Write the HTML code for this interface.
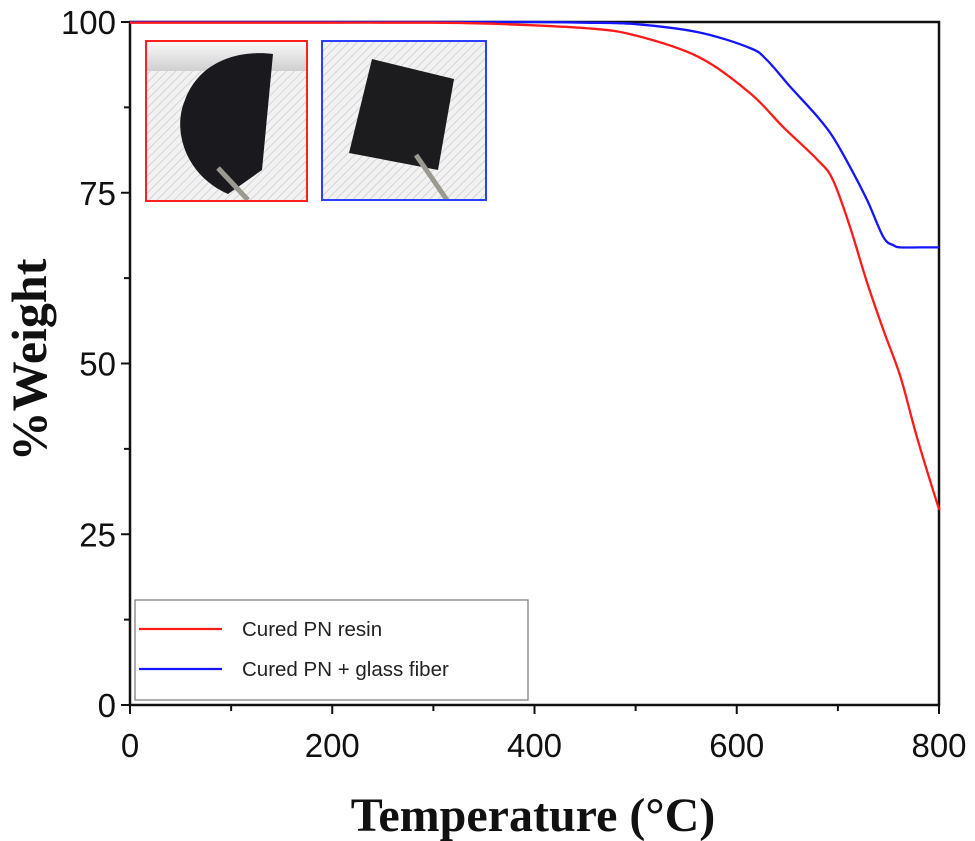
<!DOCTYPE html>
<html><head><meta charset="utf-8"><style>
html,body{margin:0;padding:0;background:#fff;}
svg{display:block;}
</style></head><body>
<svg id="chart" width="975" height="841" viewBox="0 0 975 841" xmlns="http://www.w3.org/2000/svg">
<defs>
<pattern id="hatch" width="6" height="6" patternUnits="userSpaceOnUse" patternTransform="rotate(45)">
<rect width="6" height="6" fill="#f2f2f2"/><line x1="0" y1="0" x2="0" y2="6" stroke="#d4d4d4" stroke-width="2"/>
</pattern>
<linearGradient id="topg" x1="0" y1="0" x2="0" y2="1"><stop offset="0" stop-color="#fafafa"/><stop offset="1" stop-color="#cfcfcf"/></linearGradient>
</defs>
<g id="plot"></g>
</svg>
<script>
const tempsRed = [0,100,200,300,366,450,498,562,613,646,680,695,712,729,745,762,778,798,800];
const weightRed = [99.9,99.9,99.9,99.9,99.7,99.1,98.1,94.9,89.6,84.6,79.8,76.9,70,61.8,54.9,48,39.3,29.6,29];
const tempsBlue = [0,100,200,300,400,450,499,562,613,630,653,680,695,712,729,745,755,762,780,800];
const weightBlue = [100,100,100,100,100,99.9,99.7,98.5,96.2,94.4,90.5,86.1,83.2,78.8,73.9,68.5,67.3,67,67,67];
const xTicks = [0,200,400,600,800];
const xMinor = [100,300,500,700];
const yTicks = [0,25,50,75,100];
const yMinor = [12.5,37.5,62.5,87.5];
const seriesNames = ["Cured PN resin","Cured PN + glass fiber"];

const NS="http://www.w3.org/2000/svg";
const X0=130,X1=939,Y0=705,Y1=22;
const sx=v=>X0+(v-0)/(800-0)*(X1-X0);
const sy=v=>Y0-(v-0)/(100-0)*(Y0-Y1);
const g=document.getElementById('plot');
function mk(tag,attrs,parent){const e=document.createElementNS(NS,tag);for(const k in attrs)e.setAttribute(k,attrs[k]);(parent||g).appendChild(e);return e;}

// insets
const ins1=mk('g',{});


mk('rect',{x:146,y:41,width:161,height:160,fill:'url(#hatch)'},ins1);
mk('rect',{x:146,y:41,width:161,height:30,fill:'url(#topg)'},ins1);
mk('path',{d:'M273,54 C240,50 200,60 185,100 C172,130 185,175 228,194 L262,170 Z',fill:'#1a1a1e'},ins1);
mk('line',{x1:218,y1:168,x2:248,y2:200,stroke:'#9a9a90','stroke-width':5},ins1);
mk('rect',{x:146,y:41,width:161,height:160,fill:'none',stroke:'#ff2020','stroke-width':2},ins1);
const ins2=mk('g',{});


mk('rect',{x:322,y:41,width:164,height:159,fill:'url(#hatch)'},ins2);
mk('path',{d:'M372,59 L454,79 L438,170 L349,153 Z',fill:'#1c1c1e'},ins2);
mk('line',{x1:416,y1:155,x2:447,y2:200,stroke:'#9a9a90','stroke-width':5},ins2);
mk('rect',{x:322,y:41,width:164,height:159,fill:'none',stroke:'#2a3fff','stroke-width':2},ins2);

// frame
const fr=mk('rect',{x:X0,y:Y1,width:X1-X0,height:Y0-Y1,fill:'none',stroke:'#111','stroke-width':2.5});



// ticks
xTicks.forEach(v=>{
 const t=mk('line',{x1:sx(v),y1:Y0,x2:sx(v),y2:Y0+9,stroke:'#111','stroke-width':2});
 
 
 const l=mk('text',{x:sx(v),y:Y0+52,'text-anchor':'middle','font-family':'Liberation Sans, sans-serif','font-size':33,fill:'#111'});
 l.textContent=v;
 
 
});
xMinor.forEach(v=>{
 const t=mk('line',{x1:sx(v),y1:Y0,x2:sx(v),y2:Y0+6,stroke:'#111','stroke-width':2});
 
 
});
yTicks.forEach(v=>{
 const t=mk('line',{x1:X0-9,y1:sy(v),x2:X0,y2:sy(v),stroke:'#111','stroke-width':2});
 
 
 const l=mk('text',{x:X0-14,y:sy(v)+12,'text-anchor':'end','font-family':'Liberation Sans, sans-serif','font-size':33,fill:'#111'});
 l.textContent=v;
 
 
});
yMinor.forEach(v=>{
 const t=mk('line',{x1:X0-6,y1:sy(v),x2:X0,y2:sy(v),stroke:'#111','stroke-width':2});
 
 
});

// series (smooth Catmull-Rom)
function line(xs,ys,color,name){
 const P=xs.map((x,i)=>[sx(x),sy(ys[i])]);
 let d='M'+P[0][0].toFixed(1)+','+P[0][1].toFixed(1);
 for(let i=0;i<P.length-1;i++){
  const p0=P[Math.max(0,i-1)],p1=P[i],p2=P[i+1],p3=P[Math.min(P.length-1,i+2)];
  const c1=[p1[0]+(p2[0]-p0[0])/6,p1[1]+(p2[1]-p0[1])/6];
  const c2=[p2[0]-(p3[0]-p1[0])/6,p2[1]-(p3[1]-p1[1])/6];
  d+=' C'+c1.map(v=>v.toFixed(1)).join(',')+' '+c2.map(v=>v.toFixed(1)).join(',')+' '+p2.map(v=>v.toFixed(1)).join(',');
 }
 const p=mk('path',{d:d,fill:'none',stroke:color,'stroke-width':2.3,'stroke-linejoin':'round'});
 
 
}
line(tempsBlue,weightBlue,'#1515ff','series-glass-fiber');
line(tempsRed,weightRed,'#ff1a1a','series-resin');

// legend
const lg=mk('g',{});


mk('rect',{x:135,y:600,width:393,height:100,fill:'#fff',stroke:'#777','stroke-width':1.2},lg);
[['#ff1a1a',629],['#1515ff',669]].forEach((c,i)=>{
 const e=mk('g',{},lg);
 
 
 mk('line',{x1:139,y1:c[1],x2:222,y2:c[1],stroke:c[0],'stroke-width':2.3},e);
 const t=mk('text',{x:242,y:c[1]+7,'font-family':'Liberation Sans, sans-serif','font-size':20.5,fill:'#222'},e);
 t.textContent=seriesNames[i];
});

// axis titles
const xt=mk('text',{x:533,y:831,'text-anchor':'middle','font-family':'Liberation Serif, serif','font-size':48,'font-weight':'bold',fill:'#111'});
xt.textContent='Temperature (\u00B0C)';


const yt=mk('text',{x:0,y:0,'text-anchor':'middle','font-family':'Liberation Serif, serif','font-size':50,'font-weight':'bold',fill:'#111',transform:'translate(46,360) rotate(-90)'});
yt.textContent='%Weight';


</script>
</body></html>
